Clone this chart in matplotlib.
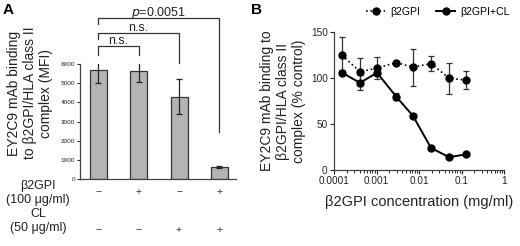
import matplotlib
matplotlib.use("Agg")
import matplotlib.pyplot as plt
import matplotlib.transforms as mtransforms
from matplotlib.ticker import LogLocator, NullFormatter, FixedLocator, FixedFormatter

plt.rcParams['font.family'] = ['Liberation Sans', 'DejaVu Sans']

# ---------------- Data: panel A ----------------
bar_values = [5690, 5650, 4280, 630]
bar_err_low = [680, 580, 890, 30]
bar_err_high = [620, 650, 940, 30]
b2gpi_signs = ['\u2212', '+', '\u2212', '+']
cl_signs = ['\u2212', '\u2212', '+', '+']
a_yticks = [0, 1000, 2000, 3000, 4000, 5000, 6000]
# comparisons: (from bar, to bar, bracket height, left leg bottom, right leg bottom, label)
comparisons = [
    (0, 1, 6950, 6470, 6470, 'n.s.'),
    (0, 2, 7600, 7300, 6050, 'n.s.'),
    (0, 3, 8380, 8080, 2450, '$p$=0.0051'),
]

# ---------------- Data: panel B ----------------
conc = [1.54e-4, 4.1e-4, 1.03e-3, 2.9e-3, 7.2e-3, 1.92e-2, 5.1e-2, 1.28e-1]
b2gpi_vals = [125, 107, 111, 117, 112, 116, 100, 98]
b2gpi_err = [20, 15, 12, 2, 20, 8, 17, 10]
b2gpicl_vals = [106, 95, 106, 80, 59, 24, 14, 17]
b2gpicl_err = [3, 8, 3, 4, 2, 2, 1, 2]
b_xticks = [1e-4, 1e-3, 1e-2, 1e-1, 1]
b_xticklabels = ['0.0001', '0.001', '0.01', '0.1', '1']
b_yticks = [0, 50, 100, 150]

W, H = 520, 246
fig = plt.figure(figsize=(W / 100, H / 100), dpi=100)

def ax_rect(x0, x1, y_top, y_bot):
    return [x0 / W, 1 - y_bot / H, (x1 - x0) / W, (y_bot - y_top) / H]

# ---------------- Panel A ----------------
axA = fig.add_axes(ax_rect(80, 236, 64, 179))
xpos = list(range(len(bar_values)))
axA.bar(xpos, bar_values, width=0.42, color='#b4b4b4', edgecolor='#333333', linewidth=0.9,
        yerr=[bar_err_low, bar_err_high], capsize=2.2,
        error_kw=dict(ecolor='#222222', elinewidth=0.9, capthick=0.9))
axA.set_xlim(-0.45, 3.41)
axA.set_ylim(0, 6000)
axA.set_yticks(a_yticks)
axA.tick_params(axis='y', labelsize=4.6, length=2.5, width=0.7, pad=1, colors='#222222')
axA.tick_params(axis='x', bottom=False, labelbottom=False)
for s in ['top', 'right']:
    axA.spines[s].set_visible(False)
for s in ['left', 'bottom']:
    axA.spines[s].set_linewidth(0.9)
    axA.spines[s].set_color('#444444')

for i, j, h, lb, rb, lab in comparisons:
    axA.plot([xpos[i], xpos[i], xpos[j], xpos[j]], [lb, h, h, rb],
             color='#333333', lw=0.9, clip_on=False)
    axA.text((xpos[i] + xpos[j]) / 2, h + 110, lab, ha='center', va='baseline',
             fontsize=9, color='#222222')

trA = mtransforms.blended_transform_factory(axA.transData, fig.transFigure)
for k, s in enumerate(b2gpi_signs):
    axA.text(xpos[k], 1 - 192 / H, s, transform=trA, ha='center', va='center', fontsize=7.5, color='#333333')
for k, s in enumerate(cl_signs):
    axA.text(xpos[k], 1 - 230 / H, s, transform=trA, ha='center', va='center', fontsize=7.5, color='#333333')
fig.text(38 / W, 1 - 193 / H, '\u03b22GPI\n(100 \u03bcg/ml)', ha='center', va='center',
         fontsize=9, linespacing=1.2, color='#222222')
fig.text(38 / W, 1 - 221 / H, 'CL\n(50 \u03bcg/ml)', ha='center', va='center',
         fontsize=9, linespacing=1.2, color='#222222')

fig.text(30 / W, 1 - 93 / H, 'EY2C9 mAb binding\nto \u03b22GPI/HLA class II\ncomplex (MFI)',
         rotation=90, ha='center', va='center', fontsize=10, linespacing=1.2, color='#222222')
fig.text(8 / W, 1 - 10 / H, 'A', ha='center', va='center', fontsize=11, fontweight='bold')

# ---------------- Panel B ----------------
axB = fig.add_axes(ax_rect(334, 504, 32.3, 170))
e1 = axB.errorbar(conc, b2gpi_vals, yerr=b2gpi_err, color='black', ls=':', lw=1.2, marker='o',
                  ms=5, capsize=2.5, elinewidth=0.9, capthick=0.9, ecolor='#333333')
e2 = axB.errorbar(conc, b2gpicl_vals, yerr=b2gpicl_err, color='black', ls='-', lw=1.4, marker='o',
                  ms=5, capsize=2.5, elinewidth=0.9, capthick=0.9, ecolor='#333333')
axB.set_xscale('log')
axB.set_xlim(1e-4, 1)
axB.set_ylim(0, 150)
axB.xaxis.set_major_locator(FixedLocator(b_xticks))
axB.xaxis.set_major_formatter(FixedFormatter(b_xticklabels))
axB.xaxis.set_minor_locator(LogLocator(base=10, subs=range(2, 10), numticks=20))
axB.xaxis.set_minor_formatter(NullFormatter())
axB.set_yticks(b_yticks)
axB.tick_params(axis='both', which='major', labelsize=7.2, length=3, width=0.8, pad=1.5, colors='#222222')
axB.tick_params(axis='x', which='minor', length=1.8, width=0.6)
for s in ['top', 'right']:
    axB.spines[s].set_visible(False)
for s in ['left', 'bottom']:
    axB.spines[s].set_linewidth(0.9)
    axB.spines[s].set_color('#444444')
axB.set_xlabel('\u03b22GPI concentration (mg/ml)', fontsize=10.5, labelpad=6, color='#222222')

fig.text(283 / W, 1 - 101 / H, 'EY2C9 mAb binding to\n\u03b22GPI/HLA class II\ncomplex (% control)',
         rotation=90, ha='center', va='center', fontsize=10, linespacing=1.2, color='#222222')
fig.text(257 / W, 1 - 10 / H, 'B', ha='center', va='center', fontsize=11, fontweight='bold')

fig.legend([e1.lines[0], e2.lines[0]], ['\u03b22GPI', '\u03b22GPI+CL'], loc='center',
           bbox_to_anchor=(438 / W, 1 - 12 / H), ncol=2,
           frameon=False, fontsize=7.6, handlelength=1.8, handletextpad=0.5, columnspacing=1.5,
           borderpad=0.1)

fig.savefig('out.png', dpi=100)
